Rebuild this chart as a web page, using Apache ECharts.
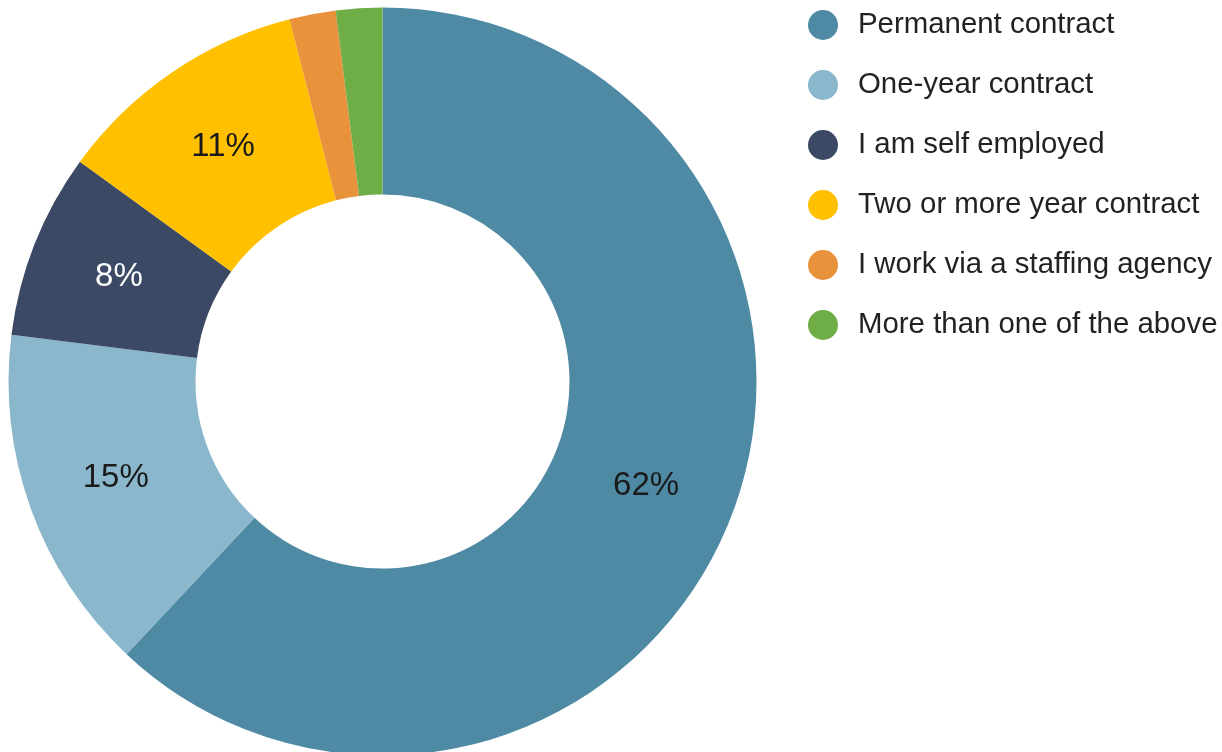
<!DOCTYPE html>
<html>
<head>
<meta charset="utf-8">
<script src="https://cdn.jsdelivr.net/npm/echarts@6/dist/echarts.min.js"></script>
<style>
html,body{margin:0;padding:0;background:#fff;}
#chart{width:1222px;height:752px;}
</style>
</head>
<body>
<div id="chart"></div>
<script>
const categories = ["Permanent contract","One-year contract","I am self employed","Two or more year contract","I work via a staffing agency","More than one of the above"];
const values = [62, 15, 8, 11, 2, 2];
const colors = ["#4F8AA5","#8AB7CB","#3B4964","#FFC000","#E8923B","#6FAD47"];
const labelColors = ["#1a1a1a","#1a1a1a","#ffffff","#1a1a1a","#1a1a1a","#1a1a1a"];
const showLabel = [true, true, true, true, false, false];

const chart = echarts.init(document.getElementById('chart'), null, {renderer:'canvas'});
const data = categories.map((c,i)=>({
  name: c,
  value: values[i],
  itemStyle: {color: colors[i]},
  label: {show: showLabel[i], color: labelColors[i]}
}));
chart.setOption({
  animation: false,
  backgroundColor: '#ffffff',
  textStyle: {fontFamily: 'Liberation Sans, Arial, sans-serif'},
  legend: {
    orient: 'vertical',
    left: 808,
    top: 10,
    padding: 0,
    itemWidth: 60,
    itemHeight: 30,
    itemGap: 30,
    icon: 'circle',
    selectedMode: false,
    data: categories,
    textStyle: {fontSize: 29.4, color: '#222222', fontFamily: 'Liberation Sans, Arial, sans-serif'}
  },
  series: [{
    type: 'pie',
    center: [382.5, 381.5],
    radius: [187, 374],
    startAngle: 90,
    clockwise: true,
    avoidLabelOverlap: false,
    silent: true,
    itemStyle: {borderWidth: 0},
    label: {
      show: true,
      position: 'inside',
      fontSize: 33,
      fontFamily: 'Liberation Sans, Arial, sans-serif',
      formatter: p => p.value + '%'
    },
    labelLine: {show: false},
    emphasis: {disabled: true},
    data: data
  }]
});
</script>
</body>
</html>
